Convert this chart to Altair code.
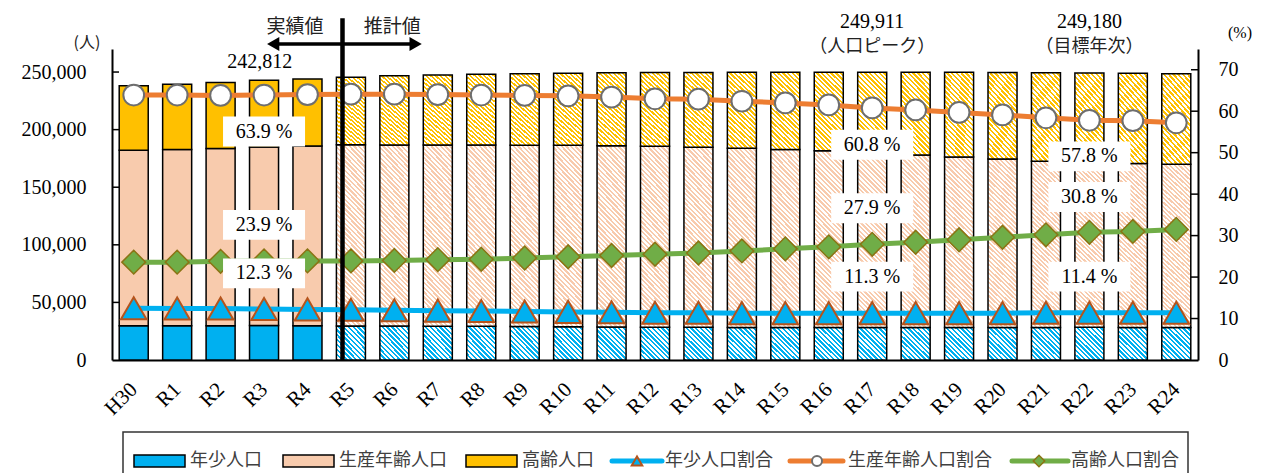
import math
import altair as alt
import pandas as pd

# ---------------- data ----------------
years = ["H30", "R1", "R2", "R3", "R4", "R5", "R6", "R7", "R8", "R9", "R10", "R11", "R12",
         "R13", "R14", "R15", "R16", "R17", "R18", "R19", "R20", "R21", "R22", "R23", "R24"]
n_actual = 5  # H30-R4 are actual values, R5- are projections

pop_youth = [29700, 29700, 29800, 29860, 29700, 29600, 29500, 29400, 29300, 29100, 28900, 28700, 28500,
             28400, 28300, 28200, 28200, 28240, 28200, 28200, 28200, 28300, 28407, 28300, 28300]
pop_working = [152500, 153100, 153800, 155130, 156000, 157300, 157100, 157200, 157300, 157400, 157500, 157300, 157100,
               156400, 155500, 154600, 153400, 151946, 149800, 148000, 146200, 144300, 144026, 142400, 141600]
pop_elderly = [55900, 56700, 57400, 57822, 58300, 58500, 60100, 60900, 61500, 62000, 62500, 63300, 64000,
               64900, 66000, 67050, 68300, 69725, 71880, 73600, 75250, 76850, 76747, 78200, 78600]

pct_youth = [12.5, 12.4, 12.4, 12.3, 12.2, 12.1, 12.0, 11.9, 11.8, 11.7, 11.6, 11.5, 11.4,
             11.4, 11.3, 11.3, 11.3, 11.3, 11.3, 11.3, 11.3, 11.4, 11.4, 11.4, 11.4]
pct_working = [63.9, 63.9, 63.8, 63.9, 64.0, 64.1, 64.1, 64.0, 63.9, 63.8, 63.7, 63.4, 63.0,
               62.9, 62.4, 62.0, 61.5, 60.8, 60.3, 59.7, 59.1, 58.4, 57.8, 57.7, 57.2]
pct_elderly = [23.6, 23.6, 23.8, 23.9, 23.9, 23.9, 24.0, 24.2, 24.3, 24.6, 24.9, 25.2, 25.5,
               25.8, 26.3, 26.8, 27.3, 27.9, 28.4, 29.0, 29.6, 30.2, 30.8, 31.0, 31.5]

left_ticks = [0, 50000, 100000, 150000, 200000, 250000]
right_ticks = [0, 10, 20, 30, 40, 50, 60, 70]

ratio_label_idx = [3, 3, 3, 17, 17, 17, 22, 22, 22]
ratio_label_pos = [55.1, 32.6, 20.9, 51.9, 36.6, 20.1, 49.1, 39.3, 20.1]
ratio_label_text = ["63.9 %", "23.9 %", "12.3 %", "60.8 %", "27.9 %", "11.3 %", "57.8 %", "30.8 %", "11.4 %"]

top_num_idx = [2.9, 17, 22]
top_num_pos = [71.9, 81.6, 81.6]
top_num_text = ["242,812", "249,911", "249,180"]
top_note_idx = [17, 22]
top_note_pos = [75.5, 75.5]
top_note_text = ["（人口ピーク）", "（目標年次）"]

# ---------------- layout / style ----------------
W, H = 1086, 311
SERIF = "Liberation Serif"
FS = 20
CJK = "Noto Sans CJK JP"
C_BLUE, C_PEACH, C_YEL = "#00B0F0", "#F8CBAD", "#FFC000"
C_ORANGE, C_GREEN = "#ED7D31", "#70AD47"


def hatch(color, h_px, w_px=29.0, period=3.3, frac=0.5):
    a = w_px / h_px
    s = (a + 1) / (a * a + 1)
    n = max(2, round((w_px + h_px) / (math.sqrt(2) * period)))
    stops = []
    for i in range(n):
        o0, o1, o2 = i / n, (i + frac) / n, (i + 1) / n
        stops += [alt.GradientStop(offset=o0, color=color), alt.GradientStop(offset=o1, color=color),
                  alt.GradientStop(offset=o1, color="white"), alt.GradientStop(offset=min(o2, 1.0), color="white")]
    return alt.LinearGradient(gradient="linear", stops=stops, x1=0, y1=1, x2=s * a, y2=1 - s)


label_expr = "[" + ",".join(f"'{y}'" for y in years) + "][datum.value]"
xscale = alt.Scale(domain=[-0.5, 24.5], nice=False, zero=False)
xaxis = alt.Axis(values=list(range(len(years))), labelExpr=label_expr, labelAngle=-45, labelAlign="right",
                 labelBaseline="middle", labelFont=SERIF, labelFontSize=21, labelColor="black",
                 labelPadding=26, labelOverlap=False, labelFlush=False, ticks=False, grid=False,
                 domainColor="black", domainWidth=2, title=None)
ylscale = alt.Scale(domain=[0, 270000], nice=False, zero=True)
ylaxis = alt.Axis(values=left_ticks, labelExpr="format(datum.value, ',')", labelFont=SERIF, labelFontSize=FS,
                  labelColor="black", labelPadding=26, ticks=False, grid=False, domainColor="black",
                  domainWidth=2, title=None, orient="left")
yrscale = alt.Scale(domain=[0, 75], nice=False, zero=True)
yraxis = alt.Axis(values=right_ticks, labelExpr="format(datum.value, 'd')", labelFont=SERIF, labelFontSize=FS,
                  labelColor="black", labelPadding=20, ticks=False, grid=False, domainColor="black",
                  domainWidth=2, title=None, orient="right")


def xenc(f):
    return alt.X(f"{f}:Q", scale=xscale, axis=xaxis)


def ylenc(f):
    return alt.Y(f"{f}:Q", scale=ylscale, axis=ylaxis)


def yrenc(f):
    return alt.Y(f"{f}:Q", scale=yrscale, axis=yraxis)


one = pd.DataFrame({"a": [0]})

# ---------------- bars ----------------
bar_df = pd.DataFrame({
    "idx": list(range(len(years))),
    "year": years,
    "youth": pop_youth,
    "working": pop_working,
    "elderly": pop_elderly,
    "kind": ["actual" if i < n_actual else "proj" for i in range(len(years))],
})
bar_base = alt.Chart(bar_df).transform_calculate(
    xl="datum.idx - 0.334", xr="datum.idx + 0.334",
    s0="0", s1="datum.youth", s2="datum.youth + datum.working",
    s3="datum.youth + datum.working + datum.elderly")

bar_layers = []
for lo, hi, color, hpx in [("s0", "s1", C_BLUE, 33), ("s1", "s2", C_PEACH, 175), ("s2", "s3", C_YEL, 80)]:
    for kind in ["actual", "proj"]:
        fill = color if kind == "actual" else hatch(color, hpx)
        bar_layers.append(
            bar_base.transform_filter(f"datum.kind == '{kind}'")
            .mark_bar(fill=fill, stroke="black", strokeWidth=1.5)
            .encode(x=xenc("xl"), x2="xr:Q", y=ylenc(lo), y2=f"{hi}:Q"))

lt = alt.Chart(pd.DataFrame({"t": left_ticks[1:]})).mark_rule(color="black", strokeWidth=1.5).encode(
    y=ylenc("t"), x=alt.value(0), x2=alt.value(7))
bars_group = alt.layer(*bar_layers, lt)

# ---------------- ratio lines ----------------
line_df = pd.DataFrame({"idx": list(range(len(years))), "py": pct_youth, "pw": pct_working, "pe": pct_elderly})
lb = alt.Chart(line_df)
l_youth = lb.mark_line(color=C_BLUE, strokeWidth=5).encode(x=xenc("idx"), y=yrenc("py"))
p_youth = lb.mark_point(shape="triangle-up", filled=True, fill=C_BLUE, stroke="#B5541C", strokeWidth=2,
                        size=650, opacity=1).encode(x=xenc("idx"), y=yrenc("py"))
l_work = lb.mark_line(color=C_ORANGE, strokeWidth=5).encode(x=xenc("idx"), y=yrenc("pw"))
p_work = lb.mark_point(shape="circle", filled=True, fill="white", stroke="#6E6E6E", strokeWidth=2,
                       size=430, opacity=1).encode(x=xenc("idx"), y=yrenc("pw"))
l_eld = lb.mark_line(color=C_GREEN, strokeWidth=5).encode(x=xenc("idx"), y=yrenc("pe"))
p_eld = lb.mark_point(shape="diamond", filled=True, fill=C_GREEN, stroke="#8A7414", strokeWidth=1.5,
                      size=560, opacity=1).encode(x=xenc("idx"), y=yrenc("pe"))

rt = alt.Chart(pd.DataFrame({"t": right_ticks[1:]})).mark_rule(color="black", strokeWidth=1.5).encode(
    y=yrenc("t"), x=alt.value(W - 7), x2=alt.value(W))

# ---------------- ratio labels ----------------
lab_df = pd.DataFrame({"idx": ratio_label_idx, "yp": ratio_label_pos, "text": ratio_label_text})
lab_base = alt.Chart(lab_df)
boxes = lab_base.transform_calculate(
    bx0="datum.idx - 0.944", bx1="datum.idx + 0.944", by0="datum.yp - 3.6", by1="datum.yp + 3.6"
).mark_rect(fill="white").encode(x=xenc("bx0"), x2="bx1:Q", y=yrenc("by0"), y2="by1:Q")
labels = lab_base.mark_text(font=SERIF, fontSize=FS, color="black").encode(
    x=xenc("idx"), y=yrenc("yp"), text="text:N")

topnum = alt.Chart(pd.DataFrame({"idx": top_num_idx, "yp": top_num_pos, "text": top_num_text})).mark_text(
    font=SERIF, fontSize=FS, color="black").encode(x=xenc("idx"), y=yrenc("yp"), text="text:N")
topnote = alt.Chart(pd.DataFrame({"idx": top_note_idx, "yp": top_note_pos, "text": top_note_text})).mark_text(
    font=CJK, fontSize=18, color="#222222").encode(x=xenc("idx"), y=yrenc("yp"), text="text:N")

# ---------------- actual / projection divider ----------------
div = alt.Chart(pd.DataFrame({"idx": [4.806], "y0": [0], "y1": [82.4]})).mark_rule(
    color="black", strokeWidth=4.5).encode(x=xenc("idx"), y=yrenc("y0"), y2="y1:Q")
arrows = alt.Chart(pd.DataFrame({"x0": [3.2, 4.83], "x1": [4.78, 6.5], "y": [76.2, 76.2]})).mark_rule(
    color="black", strokeWidth=3.5).encode(x=xenc("x0"), x2="x1:Q", y=yrenc("y"))
heads = alt.Chart(pd.DataFrame({"idx": [3.21, 6.49], "y": [76.2, 76.2],
                                "shape": ["triangle-left", "triangle-right"]})).mark_point(
    filled=True, color="black", size=200, opacity=1).encode(
    x=xenc("idx"), y=yrenc("y"), shape=alt.Shape("shape:N", scale=None))
arrow_txt = alt.Chart(pd.DataFrame({"idx": [3.71, 5.95], "y": [80.4, 80.4], "text": ["実績値", "推計値"]})).mark_text(
    font=CJK, fontSize=19, color="#222222").encode(x=xenc("idx"), y=yrenc("y"), text="text:N")

# ---------------- unit labels ----------------
unit_l = alt.Chart(one).mark_text(text="(人)", font=CJK, fontSize=16, color="#222222").encode(
    x=alt.value(-25), y=alt.value(-6))
unit_r = alt.Chart(one).mark_text(text="(%)", font=SERIF, fontSize=16, color="black").encode(
    x=alt.value(W + 42), y=alt.value(-16))

# ---------------- legend ----------------
LY = 412
leg = [alt.Chart(one).mark_rect(fill="white", fillOpacity=0, stroke="#333333", strokeWidth=1.5).encode(
    x=alt.value(11), x2=alt.value(1076), y=alt.value(383), y2=alt.value(450))]
for x0, color in [(22, C_BLUE), (171, C_PEACH), (354, C_YEL)]:
    leg.append(alt.Chart(one).mark_rect(fill=color, stroke="black", strokeWidth=1.5).encode(
        x=alt.value(x0), x2=alt.value(x0 + 51), y=alt.value(LY - 6), y2=alt.value(LY + 6)))
for x0, x1, color in [(500, 550, C_BLUE), (678, 731, C_ORANGE), (900, 956, C_GREEN)]:
    leg.append(alt.Chart(one).mark_rule(color=color, strokeWidth=5, strokeCap="round").encode(
        x=alt.value(x0), x2=alt.value(x1), y=alt.value(LY)))
leg.append(alt.Chart(one).mark_point(shape="triangle-up", filled=True, fill=C_BLUE, stroke="#B5541C",
                                     strokeWidth=2, size=110, opacity=1).encode(x=alt.value(525), y=alt.value(LY)))
leg.append(alt.Chart(one).mark_point(shape="circle", filled=True, fill="white", stroke="#6E6E6E",
                                     strokeWidth=2, size=100, opacity=1).encode(x=alt.value(705), y=alt.value(LY)))
leg.append(alt.Chart(one).mark_point(shape="diamond", filled=True, fill=C_GREEN, stroke="#8A7414",
                                     strokeWidth=1.5, size=130, opacity=1).encode(x=alt.value(927), y=alt.value(LY)))
for x0, txt in [(78, "年少人口"), (227, "生産年齢人口"), (410, "高齢人口"),
                (553, "年少人口割合"), (736, "生産年齢人口割合"), (959, "高齢人口割合")]:
    leg.append(alt.Chart(one).mark_text(text=txt, font=CJK, fontSize=18, color="#404040", align="left").encode(
        x=alt.value(x0), y=alt.value(LY)))

lines_group = alt.layer(l_youth, l_work, l_eld, p_youth, p_work, p_eld, rt, boxes, labels, topnum, topnote,
                        div, arrows, heads, arrow_txt, unit_l, unit_r, *leg)

chart = alt.layer(bars_group, lines_group).resolve_scale(y="independent").properties(
    width=W, height=H,
    padding={"left": 112, "top": 49, "right": 66, "bottom": 113},
    autosize=alt.AutoSizeParams(type="none"),
    background="white",
).configure_view(stroke=None)

chart.save("out.html", embed_options={"renderer": "svg", "actions": False})
